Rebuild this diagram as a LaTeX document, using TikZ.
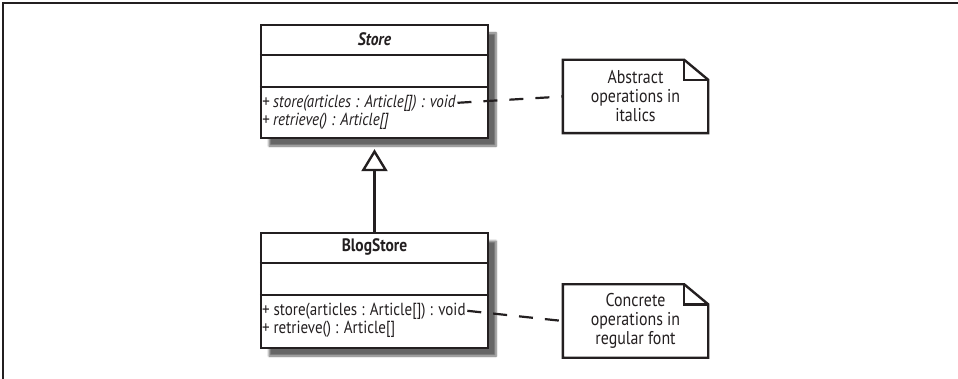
\documentclass[tikz,border=0pt]{standalone}
\usepackage{fontspec}
\setmainfont{PT Sans}[FakeStretch=0.86]
\usepackage{xcolor}
\usetikzlibrary{arrows.meta,shadows.blur}
\definecolor{ink}{HTML}{231F20}

\tikzset{
  classbox/.style={draw=ink,line width=2.4pt,fill=white,minimum width=227pt,
    inner sep=0pt,blur shadow={shadow xshift=8pt,shadow yshift=-8pt,
    shadow blur steps=6,shadow opacity=60}},
  divider/.style={draw=ink,line width=2.4pt},
  clsname/.style={font=\fontsize{18}{19}\selectfont,text=ink,inner sep=2pt},
  opline/.style={font=\fontsize{17.5}{19}\selectfont,text=ink,inner sep=1.5pt,anchor=west},
  notebox/.style={minimum width=145pt,minimum height=73pt,align=center,
    font=\fontsize{18.5}{19}\selectfont,text=ink,inner sep=0pt},
  noteline/.style={draw=ink,line width=2.4pt,line join=miter},
  notelink/.style={draw=ink,line width=2.2pt,dash pattern=on 14pt off 12pt},
}

\begin{document}
\begin{tikzpicture}[x=1pt,y=-1pt,>=Latex]
  \useasboundingbox (0,0) rectangle (958,379);
  % frame
  \draw[ink,line width=2pt] (3,379) -- (3,3) -- (958,3);

  % abstract class
  \node[classbox,minimum height=113pt] (store) at (374.5,81.5) {};
  \draw[divider] ([yshift=-31pt]store.north west) -- ([yshift=-31pt]store.north east);
  \draw[divider] ([yshift=-63pt]store.north west) -- ([yshift=-63pt]store.north east);
  \node[clsname] (storename) at ([yshift=-15.5pt]store.north) {\textbf{\textit{Store}}};
  \node[opline] (storeop1) at ([shift={(0.5pt,-79pt)}]store.north west)
      {\textit{+ store(articles : Article[]) : void}};
  \node[opline] (storeop2) at ([shift={(0.5pt,-97pt)}]store.north west)
      {\textit{+ retrieve() : Article[]}};

  % concrete class
  \node[classbox,minimum height=115pt] (blogstore) at (374.5,290.5) {};
  \draw[divider] ([yshift=-31pt]blogstore.north west) -- ([yshift=-31pt]blogstore.north east);
  \draw[divider] ([yshift=-63pt]blogstore.north west) -- ([yshift=-63pt]blogstore.north east);
  \node[clsname] (blogname) at ([yshift=-15.5pt]blogstore.north) {\textbf{BlogStore}};
  \node[opline] (blogop1) at ([shift={(0.5pt,-79pt)}]blogstore.north west)
      {+ store(articles : Article[]) : void};
  \node[opline] (blogop2) at ([shift={(0.5pt,-97pt)}]blogstore.north west)
      {+ retrieve() : Article[]};

  % generalization
  \draw[ink,line width=2.4pt,-{Triangle[open,length=22pt,width=26pt]},shorten >=10pt]
      (blogstore.north) -- (store.south);

  % notes
  \node[notebox] (note1) at (635.5,96.5) {Abstract\\operations in\\italics};
  \node[notebox] (note2) at (635.5,321) {Concrete\\operations in\\regular font};
  \foreach \n in {note1,note2}{
    \draw[noteline] (\n.north west) -- ([xshift=-24pt]\n.north east)
        -- ([yshift=-20pt]\n.north east) -- (\n.south east) -- (\n.south west) -- cycle;
    \draw[noteline] ([xshift=-24pt]\n.north east) |- ([yshift=-20pt]\n.north east);
  }

  \draw[notelink] (storeop1.east) -- (note1.west);
  \draw[notelink] (blogop1.east) -- (note2.west);
\end{tikzpicture}
\end{document}
